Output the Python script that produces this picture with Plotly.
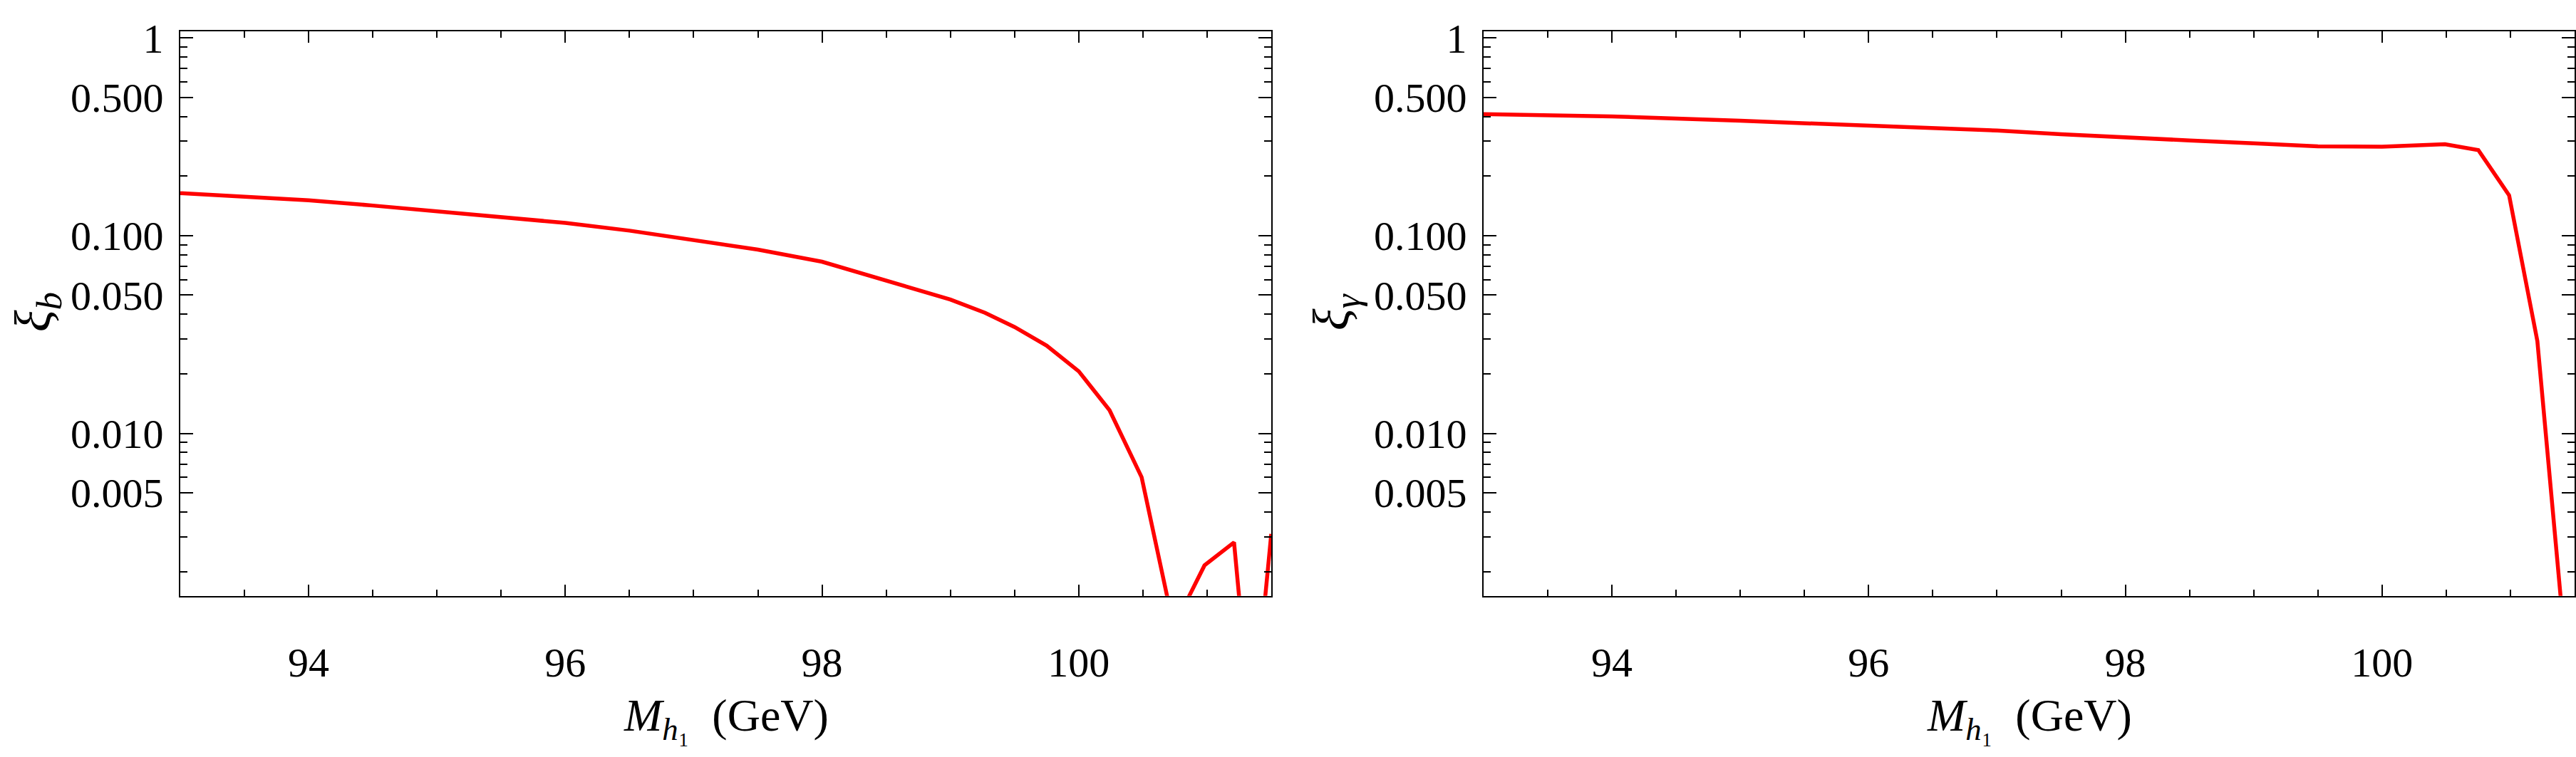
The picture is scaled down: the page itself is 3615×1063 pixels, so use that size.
import plotly.graph_objects as go

# ---- data ----
mass_b = [93.0, 93.5, 94.0, 94.5, 95.0, 95.5, 96.0, 96.5, 97.0, 97.5, 98.0, 98.5,
          99.0, 99.27, 99.5, 99.75, 100.0, 100.24, 100.49, 100.74, 100.98, 101.21,
          101.35, 101.5]
xi_b = [0.164, 0.157, 0.151, 0.142, 0.133, 0.125, 0.116, 0.106, 0.095, 0.085,
        0.0738, 0.0595, 0.0475, 0.0407, 0.0345, 0.0278, 0.0206, 0.0131, 0.0060,
        0.00105, 0.00215, 0.00281, 0.0003, 0.0031]

mass_g = [93.0, 94.0, 95.0, 96.0, 96.5, 97.0, 97.5, 98.0, 98.5, 99.0, 99.5, 100.0,
          100.49, 100.75, 100.99, 101.21, 101.5]
xi_g = [0.412, 0.401, 0.381, 0.361, 0.351, 0.340, 0.326, 0.313, 0.303, 0.293,
        0.283, 0.282, 0.290, 0.271, 0.160, 0.0293, 0.00025]

y_tickvals = [1, 0.5, 0.1, 0.05, 0.01, 0.005]
y_ticktext = ["1", "0.500", "0.100", "0.050", "0.010", "0.005"]
y_minor = [0.9, 0.8, 0.7, 0.6, 0.4, 0.3, 0.2, 0.09, 0.08, 0.07, 0.06, 0.04, 0.03,
           0.02, 0.009, 0.008, 0.007, 0.006, 0.004, 0.003, 0.002]
x_tickvals = [94, 96, 98, 100]
x_minor = [93.5, 94.5, 95, 95.5, 96.5, 97, 97.5, 98.5, 99, 99.5, 100.5, 101]

W, H = 3615, 1063
FONT = "Liberation Serif"

fig = go.Figure()
fig.add_trace(go.Scatter(x=mass_b, y=xi_b, mode="lines",
                         line=dict(color="#ff0000", width=5.5),
                         xaxis="x", yaxis="y", showlegend=False))
fig.add_trace(go.Scatter(x=mass_g, y=xi_g, mode="lines",
                         line=dict(color="#ff0000", width=5.5),
                         xaxis="x2", yaxis="y2", showlegend=False))

ydom = [1 - 832 / H, 1 - 22 / H]
xdom1 = [253 / W, 1784 / W]
xdom2 = [2082 / W, 3613 / W]

def xaxis_cfg(dom, anchor):
    return dict(domain=dom, anchor=anchor, range=[93, 101.5],
                tickmode="array", tickvals=x_tickvals,
                ticktext=[str(v) for v in x_tickvals],
                ticks="inside", ticklen=16, tickwidth=2, tickcolor="black",
                minor=dict(tickmode="array", tickvals=x_minor, ticks="inside",
                           ticklen=9, tickwidth=2, tickcolor="black"),
                showline=True, linecolor="black", linewidth=2, mirror="allticks",
                showgrid=False, zeroline=False,
                tickfont=dict(family=FONT, size=58, color="black"),
                ticklabelstandoff=42)

def yaxis_cfg(anchor):
    return dict(domain=ydom, anchor=anchor, type="log", range=[-2.822, 0.035],
                tickmode="array", tickvals=y_tickvals, ticktext=y_ticktext,
                ticks="inside", ticklen=18, tickwidth=2, tickcolor="black",
                minor=dict(tickmode="array", tickvals=y_minor, ticks="inside",
                           ticklen=10, tickwidth=2, tickcolor="black"),
                showline=True, linecolor="black", linewidth=2, mirror="allticks",
                showgrid=False, zeroline=False,
                tickfont=dict(family=FONT, size=58, color="black"),
                ticklabelstandoff=10)

fig.update_layout(
    width=W, height=H, autosize=False,
    margin=dict(l=0, r=0, t=0, b=0),
    paper_bgcolor="white", plot_bgcolor="white",
    xaxis=xaxis_cfg(xdom1, "y"),
    yaxis=yaxis_cfg("x"),
    xaxis2=xaxis_cfg(xdom2, "y2"),
    yaxis2=yaxis_cfg("x2"),
)

xtitle_font = dict(family=FONT, size=64, color="black")
ytitle_font = dict(family=FONT, size=72, color="black")
xlabel = "<i>M</i><sub><i>h</i>\u2081</sub>  (GeV)"
for cx in [(253 + 1784) / 2, (2082 + 3613) / 2]:
    fig.add_annotation(x=cx / W, y=1 - 1008 / H, xref="paper", yref="paper",
                       text=xlabel, showarrow=False, font=xtitle_font,
                       xanchor="center", yanchor="middle")
for cx, txt in [(52, "<i>\u03be</i><sub><i>b</i></sub>"),
                (1874, "<i>\u03be</i><sub><i>\u03b3</i></sub>")]:
    fig.add_annotation(x=cx / W, y=1 - 425 / H, xref="paper", yref="paper",
                       text=txt, showarrow=False, font=ytitle_font, textangle=-90,
                       xanchor="center", yanchor="middle", borderpad=0)

fig.write_html("out.html")
